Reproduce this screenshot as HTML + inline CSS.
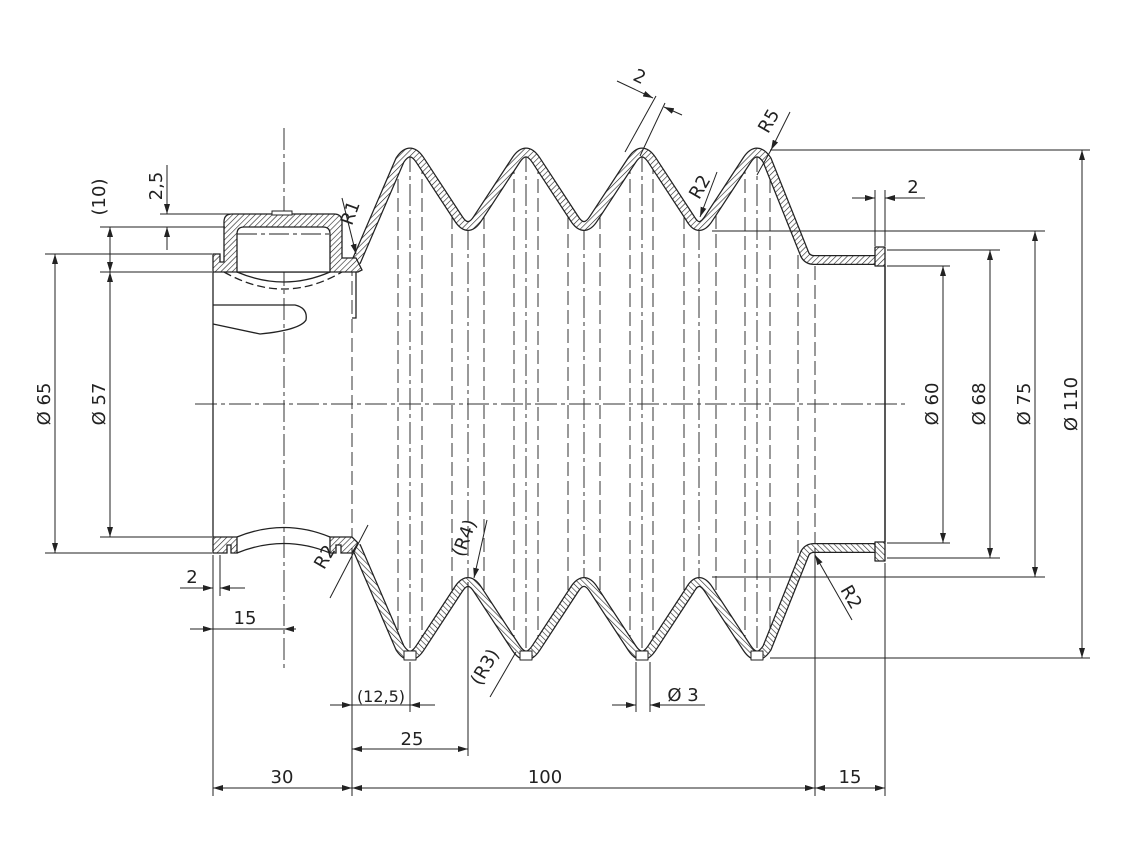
<!DOCTYPE html>
<html><head><meta charset="utf-8"><style>
html,body{margin:0;padding:0;background:#fff}
svg{display:block}
text{font-family:"DejaVu Sans","Liberation Sans",sans-serif;font-size:18px;fill:#222}
</style></head><body>
<svg width="1132" height="850" viewBox="0 0 1132 850" xmlns="http://www.w3.org/2000/svg">
<defs>
<pattern id="h" patternUnits="userSpaceOnUse" width="4" height="4" patternTransform="rotate(45)">
<rect width="4" height="4" fill="#fff"/><line x1="0" y1="0" x2="0" y2="4" stroke="#222" stroke-width="1.2"/>
</pattern>
<marker id="a" viewBox="0 0 10 6" refX="10" refY="3" markerWidth="10" markerHeight="6" orient="auto-start-reverse" markerUnits="userSpaceOnUse"><path d="M0,0 L10,3 L0,6z" fill="#222"/></marker>
</defs>

<g stroke="#333" stroke-width="1" fill="none">
<g stroke-dasharray="14,5">
<line x1="352" y1="262" x2="352" y2="546"/>
<line x1="398" y1="160" x2="398" y2="648"/><line x1="422" y1="160" x2="422" y2="648"/>
<line x1="452" y1="215" x2="452" y2="593"/><line x1="484" y1="215" x2="484" y2="593"/>
<line x1="514" y1="160" x2="514" y2="648"/><line x1="538" y1="160" x2="538" y2="648"/>
<line x1="568" y1="215" x2="568" y2="593"/><line x1="600" y1="215" x2="600" y2="593"/>
<line x1="630" y1="160" x2="630" y2="648"/><line x1="653" y1="160" x2="653" y2="648"/>
<line x1="684" y1="215" x2="684" y2="593"/><line x1="716" y1="215" x2="716" y2="593"/>
<line x1="745" y1="160" x2="745" y2="648"/><line x1="770" y1="160" x2="770" y2="648"/>
<line x1="798" y1="255" x2="798" y2="553"/><line x1="815" y1="266" x2="815" y2="543"/>
</g>
<g stroke-dasharray="22,4,4,4">
<line x1="410" y1="150" x2="410" y2="660"/><line x1="468" y1="228" x2="468" y2="580"/>
<line x1="526" y1="150" x2="526" y2="660"/><line x1="584" y1="228" x2="584" y2="580"/>
<line x1="642" y1="150" x2="642" y2="660"/><line x1="699" y1="228" x2="699" y2="580"/>
<line x1="757" y1="150" x2="757" y2="660"/>
<line x1="195" y1="404" x2="905" y2="404"/>
<line x1="284" y1="128" x2="284" y2="672"/>
</g>
</g>

<g fill="none" stroke-linejoin="round">
<path d="M356 262 L400 160 Q410 145 420 160 L458 218 Q468 234 478 218 L516 160 Q526 145 536 160 L574 218 Q584 234 594 218 L632 160 Q642 145 652 160 L690 218 Q699 234 709 218 L747 160 Q757 145 767 160 L805 255 Q808 260 814 260 L878 260" stroke="#222" stroke-width="10"/>
<path d="M356 262 L400 160 Q410 145 420 160 L458 218 Q468 234 478 218 L516 160 Q526 145 536 160 L574 218 Q584 234 594 218 L632 160 Q642 145 652 160 L690 218 Q699 234 709 218 L747 160 Q757 145 767 160 L805 255 Q808 260 814 260 L878 260" stroke="url(#h)" stroke-width="7.5"/>
<rect x="875" y="247" width="10" height="19" fill="url(#h)" stroke="#222" stroke-width="1.3"/>
</g>
<g transform="translate(0,808) scale(1,-1)" fill="none" stroke-linejoin="round">
<path d="M356 262 L400 160 Q410 145 420 160 L458 218 Q468 234 478 218 L516 160 Q526 145 536 160 L574 218 Q584 234 594 218 L632 160 Q642 145 652 160 L690 218 Q699 234 709 218 L747 160 Q757 145 767 160 L805 255 Q808 260 814 260 L878 260" stroke="#222" stroke-width="10"/>
<path d="M356 262 L400 160 Q410 145 420 160 L458 218 Q468 234 478 218 L516 160 Q526 145 536 160 L574 218 Q584 234 594 218 L632 160 Q642 145 652 160 L690 218 Q699 234 709 218 L747 160 Q757 145 767 160 L805 255 Q808 260 814 260 L878 260" stroke="url(#h)" stroke-width="7.5"/>
<rect x="875" y="247" width="10" height="19" fill="url(#h)" stroke="#222" stroke-width="1.3"/>
<g fill="#fff" stroke="#222" stroke-width="1"><rect x="404" y="148" width="12" height="9"/><rect x="520" y="148" width="12" height="9"/><rect x="636" y="148" width="12" height="9"/><rect x="751" y="148" width="12" height="9"/></g>
</g>
<line x1="885" y1="266" x2="885" y2="542" stroke="#222" stroke-width="1.5"/>

<path d="M213 254 L220 254 L220 262 L224 262 L224 222 Q224 214 232 214 L334 214 Q342 214 342 222 L342 258 L356 258 L358 262 L362 270 L358 272 L213 272 Z" fill="url(#h)" stroke="#222" stroke-width="1.3"/>
<path d="M237 272 L237 234 Q237 227 244 227 L323 227 Q330 227 330 234 L330 272 Z" fill="#fff" stroke="#222" stroke-width="1.3"/>
<rect x="272" y="211" width="20" height="4" fill="#fff" stroke="#222" stroke-width="1"/>
<g fill="none" stroke="#222" stroke-width="1.3">
<path d="M237 272 Q284 292 330 272"/>
<path d="M224 272 Q284 306 342 272" stroke-dasharray="8,4"/>
<path d="M213 272 L213 537"/>
<path d="M356 272 L356 318 L352 318"/>
<path d="M213 305 L295 305 Q308 308 306 320 Q300 330 260 334 L213 324"/>
<line x1="237" y1="234" x2="330" y2="234" stroke-dasharray="20,4,4,4" stroke-width="1"/>
</g>
<path d="M213 537 L237 537 L237 553 L231 553 L231 545 L227 545 L227 553 L213 553 Z" fill="url(#h)" stroke="#222" stroke-width="1.3"/>
<path d="M330 537 L352 537 L358 543 L352 553 L341 553 L341 545 L336 545 L336 553 L330 553 Z" fill="url(#h)" stroke="#222" stroke-width="1.3"/>
<g fill="none" stroke="#222" stroke-width="1.3">
<path d="M237 537 Q284 518 330 537"/><path d="M237 553 Q284 534 330 553"/>
</g>

<g stroke="#222" stroke-width="1" fill="none">
<line x1="45" y1="254" x2="212" y2="254"/><line x1="45" y1="553" x2="212" y2="553"/>
<line x1="100" y1="272" x2="212" y2="272"/><line x1="100" y1="537" x2="212" y2="537"/>
<line x1="100" y1="227" x2="225" y2="227"/><line x1="160" y1="214" x2="272" y2="214"/>
<line x1="213" y1="555" x2="213" y2="796"/><line x1="220" y1="555" x2="220" y2="596"/>
<line x1="352" y1="548" x2="352" y2="796"/><line x1="815" y1="548" x2="815" y2="796"/><line x1="885" y1="563" x2="885" y2="796"/>
<line x1="410" y1="662" x2="410" y2="712"/><line x1="468" y1="582" x2="468" y2="756"/>
<line x1="636" y1="662" x2="636" y2="712"/><line x1="650" y1="662" x2="650" y2="712"/>
<line x1="770" y1="150" x2="1090" y2="150"/><line x1="770" y1="658" x2="1090" y2="658"/>
<line x1="712" y1="231" x2="1045" y2="231"/><line x1="712" y1="577" x2="1045" y2="577"/>
<line x1="887" y1="250" x2="1000" y2="250"/><line x1="887" y1="558" x2="1000" y2="558"/>
<line x1="887" y1="266" x2="950" y2="266"/><line x1="887" y1="543" x2="950" y2="543"/>
<line x1="875" y1="190" x2="875" y2="246"/><line x1="885" y1="190" x2="885" y2="246"/>
<line x1="55" y1="254" x2="55" y2="553" marker-start="url(#a)" marker-end="url(#a)"/>
<line x1="110" y1="272" x2="110" y2="537" marker-start="url(#a)" marker-end="url(#a)"/>
<line x1="110" y1="227" x2="110" y2="272" marker-start="url(#a)" marker-end="url(#a)"/>
<line x1="167" y1="165" x2="167" y2="214" marker-end="url(#a)"/><line x1="167" y1="250" x2="167" y2="227" marker-end="url(#a)"/>
<line x1="180" y1="588" x2="213" y2="588" marker-end="url(#a)"/><line x1="245" y1="588" x2="220" y2="588" marker-end="url(#a)"/>
<line x1="190" y1="629" x2="296" y2="629"/><line x1="190" y1="629" x2="213" y2="629" marker-end="url(#a)"/><line x1="296" y1="629" x2="284" y2="629" marker-end="url(#a)"/>
<line x1="213" y1="788" x2="352" y2="788" marker-start="url(#a)" marker-end="url(#a)"/>
<line x1="352" y1="788" x2="815" y2="788" marker-start="url(#a)" marker-end="url(#a)"/>
<line x1="815" y1="788" x2="885" y2="788" marker-start="url(#a)" marker-end="url(#a)"/>
<line x1="352" y1="749" x2="468" y2="749" marker-start="url(#a)" marker-end="url(#a)"/>
<line x1="330" y1="705" x2="435" y2="705"/><line x1="330" y1="705" x2="352" y2="705" marker-end="url(#a)"/><line x1="435" y1="705" x2="410" y2="705" marker-end="url(#a)"/>
<line x1="612" y1="705" x2="636" y2="705" marker-end="url(#a)"/><line x1="705" y1="705" x2="650" y2="705" marker-end="url(#a)"/>
<line x1="943" y1="266" x2="943" y2="543" marker-start="url(#a)" marker-end="url(#a)"/>
<line x1="990" y1="250" x2="990" y2="558" marker-start="url(#a)" marker-end="url(#a)"/>
<line x1="1035" y1="231" x2="1035" y2="577" marker-start="url(#a)" marker-end="url(#a)"/>
<line x1="1082" y1="150" x2="1082" y2="658" marker-start="url(#a)" marker-end="url(#a)"/>
<line x1="852" y1="198" x2="875" y2="198" marker-end="url(#a)"/><line x1="925" y1="198" x2="885" y2="198" marker-end="url(#a)"/>
<line x1="617" y1="81" x2="653" y2="98" marker-end="url(#a)"/><line x1="682" y1="115" x2="664" y2="107" marker-end="url(#a)"/>
<line x1="625" y1="152" x2="656" y2="96"/><line x1="640" y1="156" x2="665" y2="103"/>
<line x1="790" y1="112" x2="771" y2="150" marker-end="url(#a)"/><line x1="771" y1="150" x2="757" y2="175"/>
<line x1="717" y1="172" x2="700" y2="217" marker-end="url(#a)"/>
<line x1="342" y1="198" x2="356" y2="254" marker-end="url(#a)"/>
<line x1="330" y1="598" x2="368" y2="525"/>
<line x1="852" y1="620" x2="815" y2="555" marker-end="url(#a)"/>
<line x1="487" y1="520" x2="474" y2="578" marker-end="url(#a)"/>
<line x1="490" y1="697" x2="516" y2="652"/>
</g>

<g>
<text transform="translate(50,404) rotate(-90)" text-anchor="middle">Ø 65</text>
<text transform="translate(105,404) rotate(-90)" text-anchor="middle">Ø 57</text>
<text transform="translate(105,197) rotate(-90)" text-anchor="middle">(10)</text>
<text transform="translate(162,186) rotate(-90)" text-anchor="middle">2,5</text>
<text transform="translate(938,404) rotate(-90)" text-anchor="middle">Ø 60</text>
<text transform="translate(985,404) rotate(-90)" text-anchor="middle">Ø 68</text>
<text transform="translate(1030,404) rotate(-90)" text-anchor="middle">Ø 75</text>
<text transform="translate(1077,404) rotate(-90)" text-anchor="middle">Ø 110</text>
<text x="192" y="583" text-anchor="middle">2</text>
<text x="245" y="624" text-anchor="middle">15</text>
<text x="282" y="783" text-anchor="middle">30</text>
<text x="545" y="783" text-anchor="middle">100</text>
<text x="850" y="783" text-anchor="middle">15</text>
<text x="412" y="745" text-anchor="middle">25</text>
<text x="381" y="702" text-anchor="middle" style="font-size:16px">(12,5)</text>
<text x="683" y="701" text-anchor="middle">Ø 3</text>
<text x="913" y="193" text-anchor="middle">2</text>
<text transform="translate(637,82) rotate(25)" text-anchor="middle">2</text>
<text transform="translate(774,124) rotate(-60)" text-anchor="middle">R5</text>
<text transform="translate(705,190) rotate(-60)" text-anchor="middle">R2</text>
<text transform="translate(356,215) rotate(-70)" text-anchor="middle">R1</text>
<text transform="translate(330,560) rotate(-60)" text-anchor="middle">R2</text>
<text transform="translate(846,600) rotate(60)" text-anchor="middle">R2</text>
<text transform="translate(470,540) rotate(-70)" text-anchor="middle">(R4)</text>
<text transform="translate(490,670) rotate(-60)" text-anchor="middle">(R3)</text>
</g>
</svg>
</body></html>
